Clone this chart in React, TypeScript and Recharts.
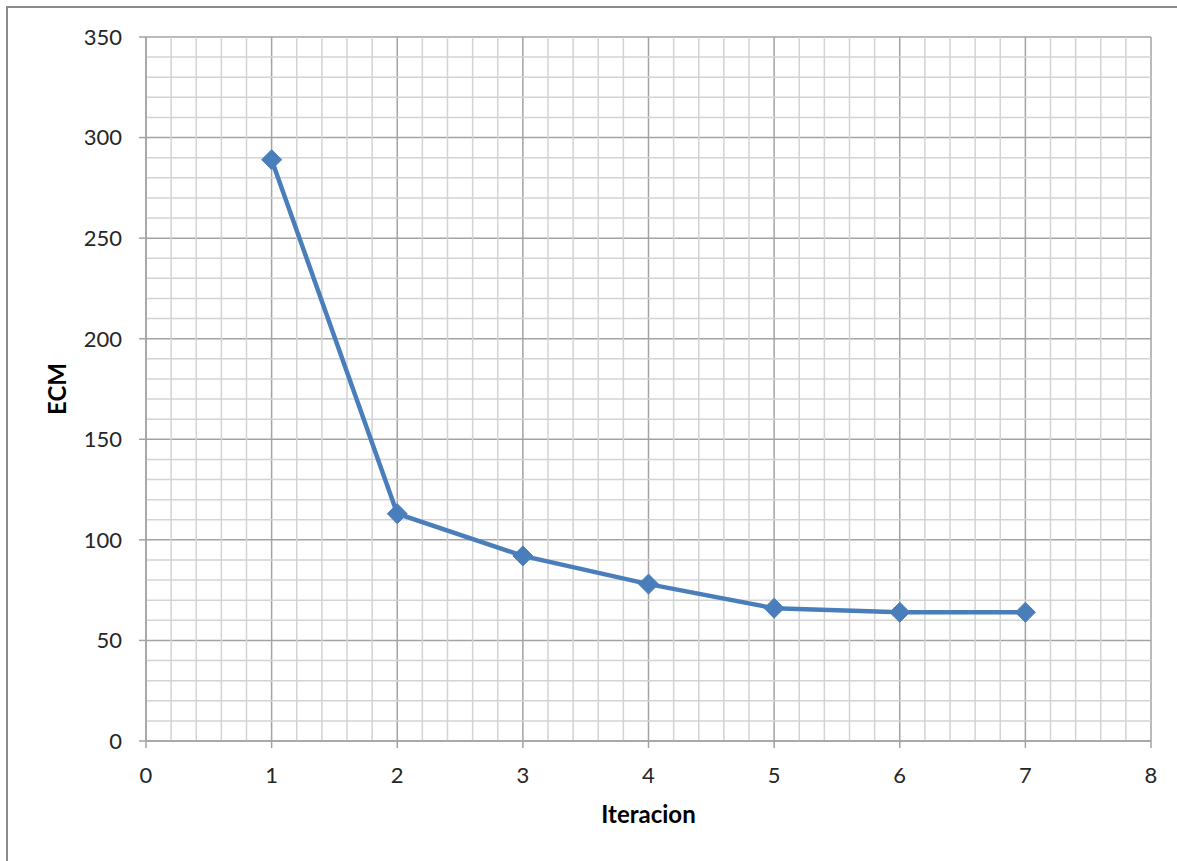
import React from "react";
import {
  LineChart,
  Line,
  XAxis,
  YAxis,
  CartesianGrid,
  ReferenceLine,
} from "recharts";

const iterations = [1, 2, 3, 4, 5, 6, 7];
const ecmValues = [289, 113, 92, 78, 66, 64, 64];
const xTicks = [0, 1, 2, 3, 4, 5, 6, 7, 8];
const yTicks = [0, 50, 100, 150, 200, 250, 300, 350];

// minor grid steps: 0.2 on x, 10 on y
const minorX = Array.from({ length: 41 }, (_, i) => +(i * 0.2).toFixed(1)).filter(
  (v) => !xTicks.includes(v)
);
const minorY = Array.from({ length: 36 }, (_, i) => i * 10).filter(
  (v) => !yTicks.includes(v)
);

const data = iterations.map((it, i) => ({ it, ecm: ecmValues[i] }));

const FONT = "Lato, 'Open Sans', sans-serif";
const BLUE = "#4a7ebb";
const MAJOR = "#a3a3a3";
const MINOR = "#d3d3d3";

const Diamond = (props: any) => {
  const { cx, cy } = props;
  if (cx == null || cy == null) return null;
  const r = 10;
  return (
    <polygon
      points={`${cx},${cy - r} ${cx + r},${cy} ${cx},${cy + r} ${cx - r},${cy}`}
      fill={BLUE}
      stroke={BLUE}
      strokeWidth={1}
    />
  );
};

export default function App() {
  return (
    <div
      style={{
        position: "absolute",
        left: 0,
        top: 0,
        width: 1177,
        height: 861,
        overflow: "hidden",
        background: "#fff",
      }}
    >
      <div
        style={{
          position: "absolute",
          left: 6,
          top: 6,
          width: 1200,
          height: 900,
          border: "2px solid #8c8c8c",
        }}
      />
      <div style={{ position: "absolute", left: 0, top: 0 }}>
        <LineChart
          width={1177}
          height={861}
          data={data}
          margin={{ top: 37, right: 26, left: 0, bottom: 0 }}
        >
          {minorX.map((v) => (
            <ReferenceLine key={"mx" + v} x={v} stroke={MINOR} strokeWidth={1.5} />
          ))}
          {minorY.map((v) => (
            <ReferenceLine key={"my" + v} y={v} stroke={MINOR} strokeWidth={1.5} />
          ))}
          <CartesianGrid stroke={MAJOR} strokeWidth={1.5} />
          <XAxis
            dataKey="it"
            type="number"
            domain={[0, 8]}
            ticks={xTicks}
            interval={0}
            height={120}
            tickSize={7}
            tickMargin={19}
            stroke={MAJOR}
            strokeWidth={1.5}
            tick={{ fill: "#262626", fontSize: 22, fontFamily: FONT }}
            label={{
              content: ({ viewBox }: any) => (
                <text
                  x={viewBox.x + viewBox.width / 2}
                  y={823}
                  textAnchor="middle"
                  fontFamily={FONT}
                  fontWeight="bold"
                  fontSize={24}
                  fill="#000"
                >
                  Iteracion
                </text>
              ),
            }}
          />
          <YAxis
            type="number"
            domain={[0, 350]}
            ticks={yTicks}
            interval={0}
            width={146}
            tickSize={7}
            tickMargin={17}
            stroke={MAJOR}
            strokeWidth={1.5}
            tick={{ fill: "#262626", fontSize: 22, fontFamily: FONT }}
            label={{
              content: ({ viewBox }: any) => {
                const x = 66;
                const y = viewBox.y + viewBox.height / 2;
                return (
                  <text
                    x={x}
                    y={y}
                    transform={`rotate(-90 ${x} ${y})`}
                    textAnchor="middle"
                    fontFamily={FONT}
                    fontWeight="bold"
                    fontSize={24}
                    fill="#000"
                  >
                    ECM
                  </text>
                );
              },
            }}
          />
          <Line
            type="linear"
            dataKey="ecm"
            stroke={BLUE}
            strokeWidth={4.5}
            dot={<Diamond />}
            activeDot={false}
            isAnimationActive={false}
          />
        </LineChart>
      </div>
    </div>
  );
}
